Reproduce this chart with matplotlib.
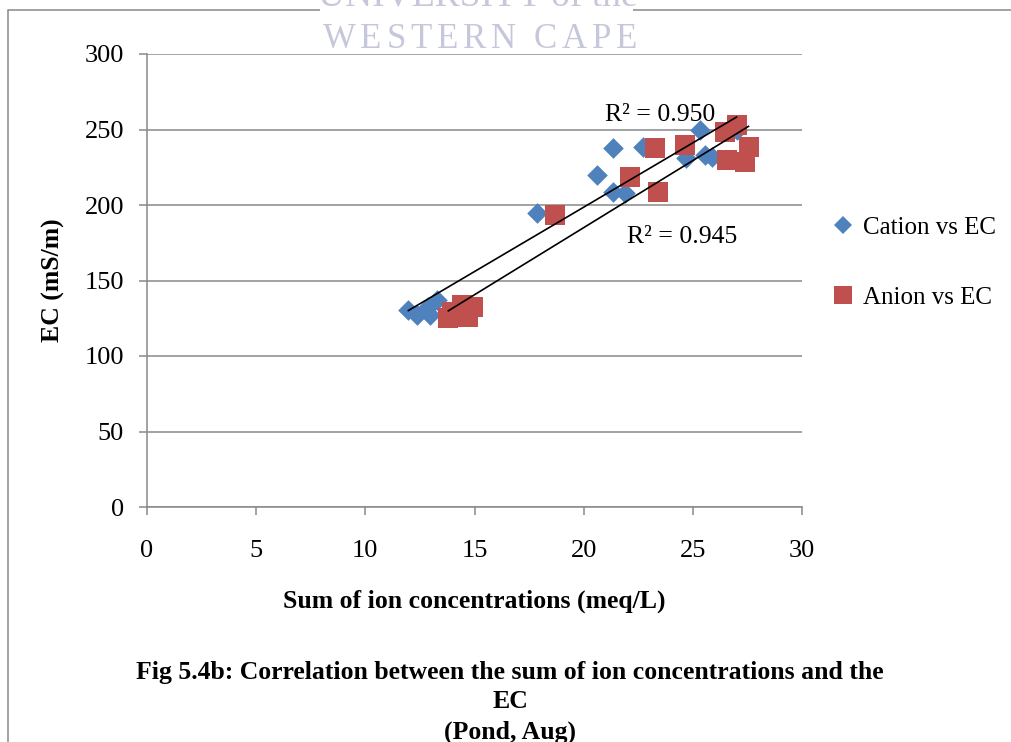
import numpy as np
import matplotlib
matplotlib.use("Agg")
import matplotlib.pyplot as plt
from matplotlib.patches import Rectangle
from matplotlib.lines import Line2D

# Sum of ion concentrations (meq/L) against EC (mS/m), pond samples, August
CATION_SUM = [11.97, 12.35, 12.87, 12.96, 13.27, 17.85, 20.6, 21.36, 21.36,
              21.9, 22.73, 24.7, 25.33, 25.56, 25.9, 27.0]
CATION_EC = [130.5, 127.2, 132.6, 127.2, 137.1, 194.5, 219.9, 237.5, 208.8,
             207.7, 238.6, 231.0, 249.5, 233.0, 232.0, 250.0]
ANION_SUM = [13.8, 13.96, 14.42, 14.93, 14.7, 18.7, 22.13, 23.27, 23.42,
             24.64, 26.48, 27.0, 27.55, 26.55, 27.4]
ANION_EC = [125.0, 129.3, 133.8, 132.6, 126.0, 193.4, 218.7, 237.5, 208.8,
            239.7, 248.5, 253.0, 238.6, 229.8, 228.7]
R2_LABELS = ["R² = 0.950", "R² = 0.945"]

BLUE = "#4f81bd"
RED = "#c0504d"
GREY = "#898989"
MARK = "#c6c7da"

plt.rcParams["font.family"] = "Liberation Serif"

fig = plt.figure(figsize=(10.12, 7.42), dpi=100)
W, H = 1012, 742
ax = fig.add_axes([147 / W, 1 - 507 / H, (802 - 147) / W, (507 - 54) / H])

ax.scatter(CATION_SUM, CATION_EC, marker="D", s=10.5 ** 2, color=BLUE,
           linewidths=0, zorder=3)
ax.scatter(ANION_SUM, ANION_EC, marker="s", s=14 ** 2, color=RED,
           linewidths=0, zorder=4)

# linear trend lines over each series' range
for xs, ys in [(CATION_SUM, CATION_EC), (ANION_SUM, ANION_EC)]:
    xs = np.asarray(xs)
    k, b = np.polyfit(xs, ys, 1)
    xx = np.array([xs.min(), xs.max()])
    ax.plot(xx, k * xx + b, color="black", lw=1.2, zorder=5)

ax.text(20.98, 259.6, R2_LABELS[0], fontsize=18.5, va="center", ha="left", zorder=6)
ax.text(21.99, 178.8, R2_LABELS[1], fontsize=18.5, va="center", ha="left", zorder=6)

ax.set_xlim(0, 30)
ax.set_ylim(0, 300)
ax.set_xticks(range(0, 31, 5))
ax.set_yticks(range(0, 301, 50))
ax.yaxis.grid(True, color=GREY, lw=1.1)
ax.set_axisbelow(True)
for side in ["top", "right"]:
    ax.spines[side].set_visible(False)
for side in ["left", "bottom"]:
    ax.spines[side].set_color(GREY)
    ax.spines[side].set_linewidth(1.1)
ax.tick_params(axis="y", direction="out", length=5.5, width=1.1, color=GREY,
               pad=11, labelsize=19)
ax.tick_params(axis="x", direction="out", length=5.5, width=1.1, color=GREY,
               pad=18, labelsize=19)

ax.set_xlabel("Sum of ion concentrations (meq/L)", fontsize=18.5,
              fontweight="bold", labelpad=20)
ax.set_ylabel("EC (mS/m)", fontsize=18.5, fontweight="bold", labelpad=14)

handles = [
    Line2D([], [], ls="none", marker="D", ms=9, color=BLUE, mew=0),
    Line2D([], [], ls="none", marker="s", ms=12.5, color=RED, mew=0),
]
fig.legend(handles, ["Cation vs EC", "Anion vs EC"], loc="upper left",
           bbox_to_anchor=(813 / W, 1 - 194 / H), frameon=False, fontsize=18,
           handlelength=0.6, handletextpad=0.5, labelspacing=1.9)

# page frame and watermark
fig.patches.append(Rectangle((8 / W, -0.1), 1.2, 1.1 - 10.5 / H, transform=fig.transFigure,
                             fill=False, edgecolor=GREY, lw=1.1, zorder=0))
fig.patches.append(Rectangle((320 / W, 1 - 52 / H), 313 / W, 52 / H,
                             transform=fig.transFigure, facecolor="white",
                             edgecolor="none", zorder=1))
fig.text(478 / W, 1 - 6 / H, "UNIVERSITY of the", fontsize=27, color=MARK,
         ha="center", va="baseline", zorder=2)


def spaced_text(xc, yc, s, size, gap):
    """Letter-spaced line of text centred on (xc, yc) in figure pixels."""
    r = fig.canvas.get_renderer()
    widths = []
    for ch in s:
        if ch == " ":
            widths.append(0.25 * size * fig.dpi / 72)
            continue
        t = fig.text(0, 0, ch, fontsize=size)
        widths.append(t.get_window_extent(r).width)
        t.remove()
    total = sum(widths) + gap * (len(s) - 1)
    x = xc - total / 2
    for ch, w in zip(s, widths):
        if ch != " ":
            fig.text(x / W, 1 - yc / H, ch, fontsize=size, color=MARK,
                     ha="left", va="center", zorder=2)
        x += w + gap


spaced_text(480, 39, "WESTERN CAPE", 25, 4.8)

caption = ["Fig 5.4b: Correlation between the sum of ion concentrations and the",
           "EC", "(Pond, Aug)"]
for i, line in enumerate(caption):
    fig.text(510 / W, 1 - (672 + 30 * i) / H, line, fontsize=18.5,
             fontweight="bold", ha="center", va="center")

fig.savefig("out.png", dpi=100)
